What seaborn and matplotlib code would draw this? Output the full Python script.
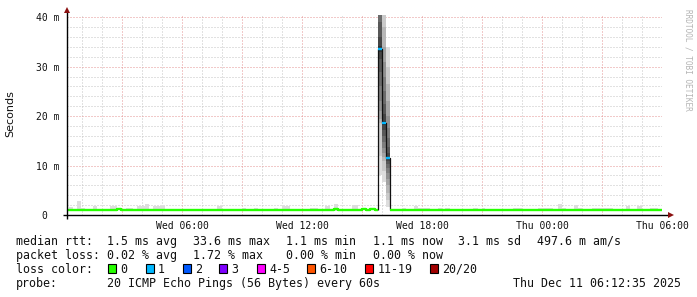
import matplotlib
matplotlib.use("Agg")
import matplotlib.pyplot as plt
from matplotlib.patches import Rectangle
import pandas as pd
import seaborn as sns

W, H = 697, 297

# ---------------- data ----------------
# time in hours after Wed 00:00
x_range_h = [0.25, 30.0]
y_max_ms = 40.45
bin_w_h = 0.2

# baseline median rtt (ms), step function
base_step_h = [0.25, 2.75, 2.95, 13.6, 13.8, 15.0, 15.2, 15.4, 15.65]
base_step_ms = [1.1, 1.3, 1.1, 1.3, 1.1, 1.3, 1.1, 1.3, 1.1]
tail_step_h = [16.375]
tail_step_ms = [1.1]

# baseline smoke bumps (light grey)
smoke_start_h = [0.35, 0.75, 0.95, 1.55, 2.4, 3.2, 3.75, 4.15, 4.55, 7.75, 9.0, 9.6,
                 10.6, 11.0, 12.4, 13.15, 13.6, 14.5, 17.0, 17.6, 17.8, 18.8, 19.15,
                 20.55, 21.0, 22.55, 23.8, 24.8, 25.0, 25.6, 25.8, 26.5, 28.2, 28.75, 29.4]
smoke_end_h = [0.55, 0.95, 1.15, 1.75, 2.75, 3.55, 4.15, 4.35, 5.15, 8.0, 9.2, 9.8,
               10.8, 11.4, 12.8, 13.4, 13.8, 14.8, 17.2, 17.8, 18.4, 19.0, 19.4,
               20.8, 21.15, 23.0, 24.55, 25.0, 25.2, 25.8, 26.0, 27.55, 28.4, 29.0, 29.8]
smoke_top_ms = [1.6, 2.8, 1.4, 1.8, 1.8, 1.4, 1.8, 2.2, 1.8, 1.8, 1.4, 1.4,
                1.4, 1.8, 1.4, 1.8, 2.2, 2.0, 1.4, 1.8, 1.4, 1.4, 1.4,
                1.4, 1.4, 1.5, 1.5, 2.2, 1.5, 2.0, 1.5, 1.4, 1.8, 1.8, 1.5]
smoke_floor_ms = 0.9

# spike bins (20 sorted pings each)
spike_start_h = [15.775, 15.975, 16.175]
spike_median_ms = [33.6, 18.6, 11.6]
spike1_pings = [8.0, 12.0, 18.6, 19.5, 21.0, 23.0, 26.0, 29.0, 31.5, 33.0,
                34.2, 36.0, 39.0, 42.0, 46.0, 50.0, 55.0, 60.0, 66.0, 72.0]
spike2_pings = [6.7, 9.0, 11.0, 11.8, 12.5, 13.5, 14.8, 16.0, 17.2, 18.2,
                19.0, 20.5, 22.5, 25.0, 28.0, 31.0, 34.0, 38.0, 44.0, 50.0]
spike3_pings = [1.6, 3.0, 4.5, 6.0, 7.3, 8.5, 9.5, 10.4, 11.0, 11.4,
                11.8, 12.6, 13.8, 15.5, 17.5, 20.0, 23.0, 26.5, 30.0, 34.0]

x_label_h = [6, 12, 18, 24, 30]
x_labels = ["Wed 06:00", "Wed 12:00", "Wed 18:00", "Thu 00:00", "Thu 06:00"]
y_tick_ms = [0, 10, 20, 30, 40]
y_labels = ["0  ", "10 m", "20 m", "30 m", "40 m"]

loss_labels = ["0", "1", "2", "3", "4-5", "6-10", "11-19", "20/20"]
loss_colors = ["#26ff00", "#00b8ff", "#0059ff", "#7e00ff", "#ff00ff", "#ff5500", "#ff0000", "#a10000"]

row_rtt = ["median rtt:", "1.5 ms avg", "33.6 ms max", "1.1 ms min", "1.1 ms now", "3.1 ms sd", "497.6 m am/s"]
row_loss = ["packet loss:", "0.02 % avg", "1.72 % max", "0.00 % min", "0.00 % now"]
probe_text = ["probe:", "20 ICMP Echo Pings (56 Bytes) every 60s", "Thu Dec 11 06:12:35 2025"]

# ---------------- style ----------------
sns.set_style("white")
plt.rcParams["font.family"] = ["DejaVu Sans Mono", "DejaVu Sans"]
plt.rcParams["lines.solid_capstyle"] = "butt"

fig = plt.figure(figsize=(W / 100, H / 100), dpi=100)
fig.patch.set_facecolor("white")
ax = fig.add_axes([67 / W, (H - 215) / H, 595 / W, 200 / H])
ax.set_facecolor("white")
ax.set_xlim(*x_range_h)
ax.set_ylim(0, y_max_ms)
for s in ax.spines.values():
    s.set_visible(False)

# grid
ax.set_xticks([h for h in range(3, 31, 3)])
ax.set_xticklabels([x_labels[x_label_h.index(h)] if h in x_label_h else "" for h in range(3, 31, 3)])
ax.set_xticks([h for h in range(1, 31) if h % 3 != 0], minor=True)
ax.set_yticks(y_tick_ms)
ax.set_yticklabels(y_labels)
ax.set_yticks([v for v in range(2, 41, 2) if v % 10 != 0], minor=True)
ax.set_axisbelow(True)
ax.grid(which="major", color="#e49494", linestyle=(0, (1, 2)), linewidth=0.72)
ax.grid(which="minor", color="#c4c4c4", linestyle=(0, (1, 2)), linewidth=0.72)
ax.tick_params(which="major", length=2.2, width=0.72, color="#d09090", direction="out")
ax.tick_params(which="minor", length=2.2, width=0.72, color="#cccccc", direction="out")
ax.tick_params(axis="y", which="major", pad=3.2, labelsize=7, labelcolor="#111111")
ax.tick_params(axis="x", which="major", pad=2.0, labelsize=7, labelcolor="#111111")

# baseline smoke
for s0, s1, top in zip(smoke_start_h, smoke_end_h, smoke_top_ms):
    ax.bar(s0, top - smoke_floor_ms, bottom=smoke_floor_ms, width=s1 - s0, align="edge",
           color="#dddddd", linewidth=0, zorder=1)

# spike smoke (smokeping style nested bands)
for s0, pings in zip(spike_start_h, [spike1_pings, spike2_pings, spike3_pings]):
    n = len(pings)
    half = n // 2
    for i in range(half):
        g = (int(190 / half * (half - 1 - i)) + 50) / 255.0
        ax.bar(s0, pings[n - 1 - i] - pings[i], bottom=pings[i], width=bin_w_h, align="edge",
               color=(g, g, g), linewidth=0, zorder=1)

# median: black connectors through the spike
conn = pd.DataFrame({
    "h": [spike_start_h[0]] + spike_start_h + [spike_start_h[-1] + bin_w_h],
    "ms": [base_step_ms[-1]] + spike_median_ms + [tail_step_ms[0]],
})
sns.lineplot(data=conn, x="h", y="ms", sort=False, estimator=None, color="#111111",
             linewidth=0.9, drawstyle="steps-post", ax=ax, zorder=2)

# median: blue (loss 1) segments
blue = pd.DataFrame({
    "h": [v for s in spike_start_h for v in (s, s + bin_w_h)],
    "ms": [m for m in spike_median_ms for _ in range(2)],
    "bin": [k for k in range(len(spike_start_h)) for _ in range(2)],
})
sns.lineplot(data=blue, x="h", y="ms", units="bin", estimator=None, sort=False,
             color=loss_colors[1], linewidth=1.7, ax=ax, zorder=3)

# median: green (loss 0) baseline
green = pd.DataFrame({
    "h": base_step_h + [spike_start_h[0]] + tail_step_h + [x_range_h[1]],
    "ms": base_step_ms + [base_step_ms[-1]] + tail_step_ms + [tail_step_ms[-1]],
    "seg": [0] * (len(base_step_h) + 1) + [1] * (len(tail_step_h) + 1),
})
sns.lineplot(data=green, x="h", y="ms", units="seg", estimator=None, sort=False,
             color=loss_colors[0], linewidth=1.7, drawstyle="steps-post", ax=ax, zorder=3)

ax.set_xlabel("")
ax.set_ylabel("")

# axes lines with arrows
ax.plot([(62.5 - 67) / 595, (668 - 67) / 595], [0, 0], transform=ax.transAxes,
        color="black", lw=1.0, clip_on=False, zorder=6)
ax.plot([0, 0], [(215 - 219) / 200, (215 - 12) / 200], transform=ax.transAxes,
        color="black", lw=1.0, clip_on=False, zorder=6)
ax.plot([(670.5 - 67) / 595], [0], transform=ax.transAxes, marker=">", ms=4.5,
        color="#8b1010", mew=0, clip_on=False, zorder=7)
ax.plot([0], [(215 - 10.5) / 200], transform=ax.transAxes, marker="^", ms=4.5,
        color="#8b1010", mew=0, clip_on=False, zorder=7)


def fx(x):
    return x / W


def fy(y):
    return 1 - y / H


# y label and watermark
fig.text(fx(10.5), fy(113.5), "Seconds", rotation=90, ha="center", va="center",
         fontsize=8, family="DejaVu Sans", color="#111111")
fig.text(fx(688), fy(60), "RRDTOOL / TOBI OETIKER", rotation=270, ha="center", va="center",
         fontsize=5.6, color="#b4b4b4")

# legend text
fs = 8.4
rtt_x = [16, 107.3, 193.3, 286.0, 372.7, 458.3, 536.7]
for x, t in zip(rtt_x, row_rtt):
    fig.text(fx(x), fy(245), t, fontsize=fs, va="baseline", ha="left", color="#111111")
for x, t in zip(rtt_x, row_loss):
    fig.text(fx(x), fy(259), t, fontsize=fs, va="baseline", ha="left", color="#111111")
fig.text(fx(16), fy(273), "loss color:", fontsize=fs, va="baseline", ha="left", color="#111111")
sq_x = [108.3, 145.7, 182.7, 219.3, 256.7, 307.3, 365.0, 430.0]
for x, lab, c in zip(sq_x, loss_labels, loss_colors):
    fig.patches.append(Rectangle((fx(x), fy(272.5)), 8 / W, 8.5 / H, transform=fig.transFigure,
                                 facecolor=c, edgecolor="black", linewidth=0.8, figure=fig))
    fig.text(fx(x + 12.4), fy(273), lab, fontsize=fs, va="baseline", ha="left", color="#111111")
for x, t in zip([16, 107.3, 513.3], probe_text):
    fig.text(fx(x), fy(287), t, fontsize=fs, va="baseline", ha="left", color="#111111")

fig.savefig("out.png", dpi=100, facecolor="white")
